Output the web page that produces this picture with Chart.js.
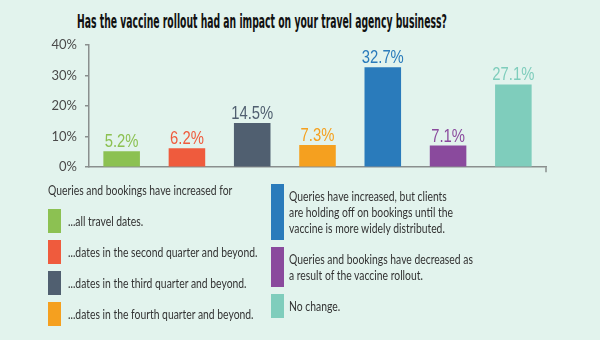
<!DOCTYPE html>
<html>
<head>
<meta charset="utf-8">
<script src="https://cdn.jsdelivr.net/npm/chart.js@4.4.0/dist/chart.umd.min.js"></script>
<style>
  html, body { margin: 0; padding: 0; }
  body { width: 600px; height: 340px; background: #e2f3ed; position: relative; overflow: hidden; }
  #title {
    position: absolute; left: 77px; top: 10px; white-space: nowrap;
    font: bold 19px "Liberation Sans Narrow", "DejaVu Sans Condensed", "Liberation Sans", sans-serif;
    color: #111; transform-origin: left top;
  }
  #chartBox { position: absolute; left: 0; top: 0; width: 600px; height: 183px; }
  .col { position: absolute; top: 0; }
  .heading, .item span {
    font: 14px Lato, "Open Sans", sans-serif; color: #333; line-height: 16px;
    white-space: nowrap; display: block; transform-origin: left center;
  }
  .item { position: relative; margin-bottom: 7px; }
  .item i { position: absolute; left: 0; top: 0; width: 13px; bottom: 0; display: block; }
</style>
</head>
<body>
<div id="title">Has the vaccine rollout had an impact on your travel agency business?</div>
<div id="chartBox"><canvas id="impactChart"></canvas></div>
<div id="legendLeft" class="col" style="left:48px; top:182px;"></div>
<div id="legendRight" class="col" style="left:271px; top:184px;"></div>
<script>
// survey answers, one line per legend row
const categories = [
  ['...all travel dates.'],
  ['...dates in the second quarter and beyond.'],
  ['...dates in the third quarter and beyond.'],
  ['...dates in the fourth quarter and beyond.'],
  ['Queries have increased, but clients', 'are holding off on bookings until the', 'vaccine is more widely distributed.'],
  ['Queries and bookings have decreased as', 'a result of the vaccine rollout.'],
  ['No change.']
];
const shares = [5.2, 6.2, 14.5, 7.3, 32.7, 7.1, 27.1];
const yTickValues = [0, 10, 20, 30, 40];
const increasedHeading = 'Queries and bookings have increased for';

const palette = ['#8cc152', '#ef5b3d', '#505f70', '#f5a01f', '#2a7bbb', '#8a4a9d', '#7fcdbc'];
const axisColor = '#8a8f8e';
const condense = 0.74;

// squeeze the headline to its column width
const title = document.getElementById('title');
title.style.transform = 'scaleX(' + (370 / title.scrollWidth) + ')';

// legend built from the same category list
function legendItem(i, textLeft) {
  const item = document.createElement('div');
  item.className = 'item';
  const sw = document.createElement('i');
  sw.style.background = palette[i];
  item.appendChild(sw);
  const txt = document.createElement('div');
  txt.style.padding = '4px 0 4px ' + textLeft + 'px';
  categories[i].forEach(line => {
    const s = document.createElement('span');
    s.textContent = line;
    s.style.transform = 'scaleX(' + condense + ')';
    txt.appendChild(s);
  });
  item.appendChild(txt);
  return item;
}
const left = document.getElementById('legendLeft');
const head = document.createElement('div');
head.className = 'heading';
head.textContent = increasedHeading;
head.style.transform = 'scaleX(' + condense + ')';
head.style.marginBottom = '11px';
left.appendChild(head);
[0, 1, 2, 3].forEach(i => left.appendChild(legendItem(i, 20)));
const right = document.getElementById('legendRight');
[4, 5, 6].forEach(i => right.appendChild(legendItem(i, 18)));

const valueLabels = {
  id: 'valueLabels',
  afterDatasetsDraw(chart) {
    const ctx = chart.ctx;
    chart.getDatasetMeta(0).data.forEach((bar, i) => {
      ctx.save();
      ctx.translate(bar.x, bar.y - 4);
      ctx.scale(0.78, 1);
      ctx.fillStyle = palette[i];
      ctx.font = '19px "Liberation Sans Narrow", "Liberation Sans", sans-serif';
      ctx.textAlign = 'center';
      ctx.textBaseline = 'alphabetic';
      ctx.fillText(shares[i].toFixed(1) + '%', 0, 0);
      ctx.restore();
    });
  }
};

// small closing tick at the right end of the baseline
const endTick = {
  id: 'endTick',
  afterDraw(chart) {
    const { ctx, chartArea } = chart;
    ctx.save();
    ctx.strokeStyle = axisColor;
    ctx.lineWidth = 1.5;
    ctx.beginPath();
    ctx.moveTo(chartArea.right, chartArea.bottom);
    ctx.lineTo(chartArea.right, chartArea.bottom + 5);
    ctx.stroke();
    ctx.restore();
  }
};

new Chart(document.getElementById('impactChart'), {
  type: 'bar',
  data: {
    labels: categories.map(c => c.join(' ')),
    datasets: [{
      data: shares,
      backgroundColor: palette,
      barPercentage: 0.56,
      categoryPercentage: 1
    }]
  },
  options: {
    responsive: true,
    maintainAspectRatio: false,
    animation: false,
    layout: { padding: { top: 45, bottom: 9, right: 54, left: 0 } },
    plugins: { legend: { display: false }, tooltip: { enabled: false } },
    scales: {
      x: {
        grid: { display: false },
        ticks: { display: false },
        border: { color: axisColor, width: 1.5 },
        afterFit(scale) { scale.height = 0; }
      },
      y: {
        min: 0,
        max: yTickValues[yTickValues.length - 1],
        ticks: {
          stepSize: 5,
          padding: 8,
          color: '#4a4a4a',
          font: { family: 'Lato, "Open Sans", sans-serif', size: 13 },
          callback: v => yTickValues.includes(v) ? v + '%' : ''
        },
        grid: { drawOnChartArea: false, tickLength: 4, color: axisColor, lineWidth: 1.5 },
        border: { color: axisColor, width: 1.5 },
        afterFit(scale) { scale.width = 89; }
      }
    }
  },
  plugins: [valueLabels, endTick]
});
</script>
</body>
</html>
